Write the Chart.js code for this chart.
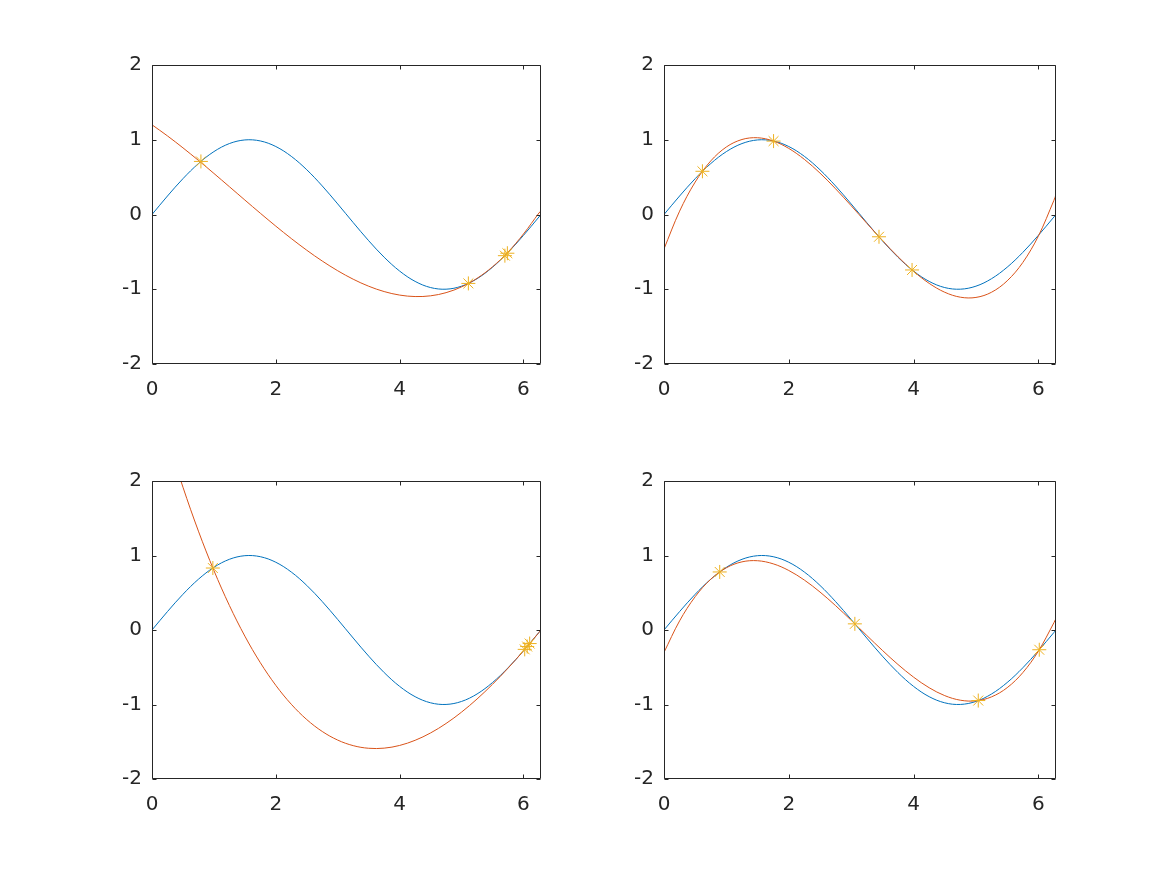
<!DOCTYPE html>
<html>
<head>
<meta charset="utf-8">
<script src="https://cdn.jsdelivr.net/npm/chart.js@4"></script>
<style>
  html, body { margin: 0; padding: 0; background: #ffffff; }
  body { width: 1167px; height: 875px; position: relative; overflow: hidden; }
  canvas { position: absolute; }
</style>
</head>
<body>
<canvas id="c1" width="459" height="354" style="left:92px;top:50px"></canvas>
<canvas id="c2" width="462" height="354" style="left:604px;top:50px"></canvas>
<canvas id="c3" width="459" height="353" style="left:92px;top:466px"></canvas>
<canvas id="c4" width="462" height="353" style="left:604px;top:466px"></canvas>
<script>
// ---- data ----
const xs = [0, 0.25, 0.5, 0.75, 1.0, 1.25, 1.5, 1.75, 2.0, 2.25, 2.5, 2.75, 3.0, 3.25, 3.5,
            3.75, 4.0, 4.25, 4.5, 4.75, 5.0, 5.25, 5.5, 5.75, 6.0, 6.25, 6.2832];
const sinY = [0, 0.2474, 0.4794, 0.6816, 0.8415, 0.9490, 0.9975, 0.9840, 0.9093, 0.7781,
              0.5985, 0.3817, 0.1411, -0.1082, -0.3508, -0.5716, -0.7568, -0.8950, -0.9775,
              -0.9993, -0.9589, -0.8589, -0.7055, -0.5083, -0.2794, -0.0332, 0];
const fit1 = [1.2, 1.0514, 0.8917, 0.7236, 0.5495, 0.3719, 0.1935, 0.0167, -0.1558, -0.3216,
              -0.4780, -0.6226, -0.7527, -0.8659, -0.9595, -1.0311, -1.0780, -1.0978, -1.0878,
              -1.0456, -0.9685, -0.8541, -0.6997, -0.5028, -0.2610, 0.0200, 0.0500];
const fit2 = [-0.4609, 0.0448, 0.4341, 0.7170, 0.9035, 1.0035, 1.0269, 0.9838, 0.8840, 0.7375,
              0.5542, 0.3442, 0.1173, -0.1164, -0.3471, -0.5648, -0.7595, -0.9212, -1.0402,
              -1.1062, -1.1095, -1.0401, -0.8880, -0.6433, -0.2900, 0.1900, 0.2650];
const fit3 = [3.291, 2.5711, 1.9170, 1.3268, 0.7984, 0.3294, -0.0824, -0.4392, -0.7433, -0.9970,
              -1.2025, -1.3620, -1.4779, -1.5523, -1.5876, -1.5859, -1.5495, -1.4807, -1.3817,
              -1.2548, -1.1022, -0.9262, -0.7290, -0.5129, -0.2801, -0.0329, 0.0009];
const fit4 = [-0.3006, 0.1226, 0.4474, 0.6820, 0.8350, 0.9148, 0.9298, 0.8884, 0.7990, 0.6701,
              0.5100, 0.3273, 0.1302, -0.0728, -0.2732, -0.4626, -0.6327, -0.7749, -0.8810,
              -0.9424, -0.9507, -0.8976, -0.7746, -0.5733, -0.2852, 0.0980, 0.1561];

const sample1X = [0.79, 5.11, 5.70, 5.74];
const sample1Y = [0.710, -0.922, -0.551, -0.518];
const sample2X = [0.616, 1.756, 3.446, 3.976];
const sample2Y = [0.578, 0.982, -0.298, -0.742];
const sample3X = [0.983, 6.02, 6.06, 6.10];
const sample3Y = [0.832, -0.260, -0.222, -0.182];
const sample4X = [0.893, 3.059, 5.037, 6.015];
const sample4Y = [0.779, 0.0825, -0.947, -0.265];

const xTicks = [0, 2, 4, 6];
const xTickLabels = ['0', '2', '4', '6'];
const yTicks = [-2, -1, 0, 1, 2];
const yTickLabels = ['-2', '-1', '0', '1', '2'];
const xMin = 0, xMax = 6.2832, yMin = -2, yMax = 2;

// ---- drawing ----
const AX = '#262626';
const toPts = (x, y) => x.map((v, i) => ({ x: v, y: y[i] }));

const framePlugin = {
  id: 'frame',
  afterDraw(chart) {
    const { ctx, chartArea: a, scales: { x, y } } = chart;
    ctx.save();
    ctx.strokeStyle = AX;
    ctx.lineWidth = 1;
    ctx.beginPath();
    const L = Math.round(a.left) + 0.5, R = Math.round(a.right) - 0.5;
    const T = Math.round(a.top) + 0.5, B = Math.round(a.bottom) - 0.5;
    ctx.rect(L, T, R - L, B - T);
    const tl = 4;
    xTicks.forEach(v => {
      const p = Math.round(x.getPixelForValue(v)) + 0.5;
      ctx.moveTo(p, B); ctx.lineTo(p, B - tl);
      ctx.moveTo(p, T); ctx.lineTo(p, T + tl);
    });
    yTicks.forEach(v => {
      const p = Math.round(y.getPixelForValue(v)) + 0.5;
      ctx.moveTo(L, p); ctx.lineTo(L + tl, p);
      ctx.moveTo(R, p); ctx.lineTo(R - tl, p);
    });
    ctx.stroke();
    ctx.restore();
  }
};

function makeChart(id, fit, sx, sy) {
  new Chart(document.getElementById(id), {
    type: 'line',
    data: {
      datasets: [
        { data: toPts(sx, sy), showLine: false, pointStyle: 'star', pointRadius: 7,
          pointBorderWidth: 1, borderColor: '#EDB120', backgroundColor: '#EDB120' },
        { data: toPts(xs, fit), borderColor: '#D95319', borderWidth: 1, pointRadius: 0,
          tension: 0.35, fill: false },
        { data: toPts(xs, sinY), borderColor: '#0072BD', borderWidth: 1, pointRadius: 0,
          tension: 0.35, fill: false }
      ]
    },
    options: {
      responsive: false,
      animation: false,
      devicePixelRatio: 1,
      layout: { padding: { top: 15, right: 10, left: 0, bottom: 0 } },
      plugins: { legend: { display: false }, tooltip: { enabled: false } },
      scales: {
        x: {
          type: 'linear', min: xMin, max: xMax,
          grid: { display: false, drawTicks: false },
          border: { display: false },
          afterBuildTicks: s => { s.ticks = xTicks.map(v => ({ value: v })); },
          afterFit: s => { s.height = 40; s.paddingLeft = 0; s.paddingRight = 0; },
          ticks: {
            autoSkip: false, maxRotation: 0, padding: 14, color: AX,
            font: { family: 'DejaVu Sans', size: 20 },
            callback: (v) => xTickLabels[xTicks.indexOf(v)]
          }
        },
        y: {
          type: 'linear', min: yMin, max: yMax,
          grid: { display: false, drawTicks: false },
          border: { display: false },
          afterBuildTicks: s => { s.ticks = yTicks.map(v => ({ value: v })); },
          afterFit: s => { s.width = 60; s.paddingTop = 0; s.paddingBottom = 0; },
          ticks: {
            autoSkip: false, padding: 10, color: AX,
            font: { family: 'DejaVu Sans', size: 20 },
            callback: (v) => yTickLabels[yTicks.indexOf(v)]
          }
        }
      }
    },
    plugins: [framePlugin]
  });
}

makeChart('c1', fit1, sample1X, sample1Y);
makeChart('c2', fit2, sample2X, sample2Y);
makeChart('c3', fit3, sample3X, sample3Y);
makeChart('c4', fit4, sample4X, sample4Y);
</script>
</body>
</html>
